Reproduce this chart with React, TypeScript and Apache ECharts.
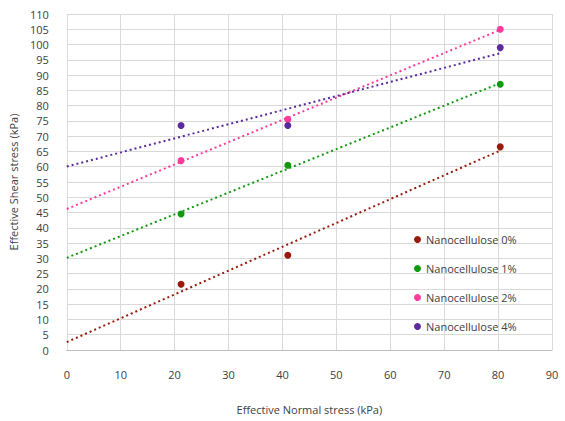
import React, { useEffect, useRef } from "react";
import * as echarts from "echarts";

const seriesNames = ["Nanocellulose 0%", "Nanocellulose 1%", "Nanocellulose 2%", "Nanocellulose 4%"];
const normalStress = [21.2, 41, 80.4];
const shear0 = [21.5, 31, 66.5];
const shear1 = [44.5, 60.5, 87];
const shear2 = [62, 75.5, 105];
const shear4 = [73.5, 73.5, 99];
const colors = ["#9a1a0c", "#109a10", "#ff3a9a", "#5b2a9e"];

function fit(xs: number[], ys: number[]) {
  const n = xs.length;
  const mx = xs.reduce((a, b) => a + b, 0) / n;
  const my = ys.reduce((a, b) => a + b, 0) / n;
  let sxy = 0, sxx = 0;
  for (let i = 0; i < n; i++) {
    sxy += (xs[i] - mx) * (ys[i] - my);
    sxx += (xs[i] - mx) ** 2;
  }
  const b = sxy / sxx;
  const a = my - b * mx;
  return { a, b };
}

export default function App() {
  const ref = useRef<HTMLDivElement>(null);
  useEffect(() => {
    const chart = echarts.init(ref.current!, null, { renderer: "svg" });
    const all = [shear0, shear1, shear2, shear4];
    const font = "Open Sans";
    const series: any[] = [];
    all.forEach((ys, i) => {
      series.push({
        name: seriesNames[i],
        type: "scatter",
        symbol: "circle",
        symbolSize: 7,
        itemStyle: { color: colors[i], opacity: 1 },
        data: normalStress.map((x, j) => [x, ys[j]]),
        z: 3,
      });
      const { a, b } = fit(normalStress, ys);
      const xEnd = Math.max(...normalStress);
      series.push({
        name: seriesNames[i] + " trend",
        type: "line",
        showSymbol: false,
        symbol: "none",
        lineStyle: { color: colors[i], width: 2, type: [2, 3] },
        data: [[0, a], [xEnd, a + b * xEnd]],
        z: 2,
        silent: true,
      });
    });
    chart.setOption({
      animation: false,
      backgroundColor: "#ffffff",
      grid: { left: 66, right: 13, top: 14, bottom: 71 },
      legend: {
        data: seriesNames.map((n, i) => ({ name: n, itemStyle: { color: colors[i], opacity: 1 } })),
        orient: "vertical",
        left: 409,
        top: 229,
        itemGap: 18,
        itemWidth: 7,
        itemHeight: 7,
        icon: "circle",
        textStyle: { fontFamily: font, fontSize: 11, color: "#404040" },
      },
      xAxis: {
        type: "value",
        min: 0,
        max: 90,
        interval: 10,
        name: "Effective Normal stress (kPa)",
        nameLocation: "middle",
        nameGap: 54,
        nameTextStyle: { fontFamily: font, fontSize: 11, color: "#404040" },
        axisLine: { show: true, lineStyle: { color: "#bfbfbf" } },
        axisTick: { show: false },
        axisLabel: { fontFamily: font, fontSize: 11, color: "#404040", margin: 19 },
        splitLine: { show: true, lineStyle: { color: "#d9d9d9" } },
      },
      yAxis: {
        type: "value",
        min: 0,
        max: 110,
        interval: 5,
        name: "Effective Shear stress (kPa)",
        nameLocation: "middle",
        nameGap: 41,
        nameTextStyle: { fontFamily: font, fontSize: 11, color: "#404040" },
        axisLine: { show: false },
        axisTick: { show: false },
        axisLabel: { fontFamily: font, fontSize: 11, color: "#404040", margin: 18 },
        splitLine: { show: true, lineStyle: { color: "#d9d9d9" } },
      },
      series,
    });
    return () => chart.dispose();
  }, []);
  return <div ref={ref} style={{ width: 565, height: 421, position: "absolute", left: 0, top: 0 }} />;
}
